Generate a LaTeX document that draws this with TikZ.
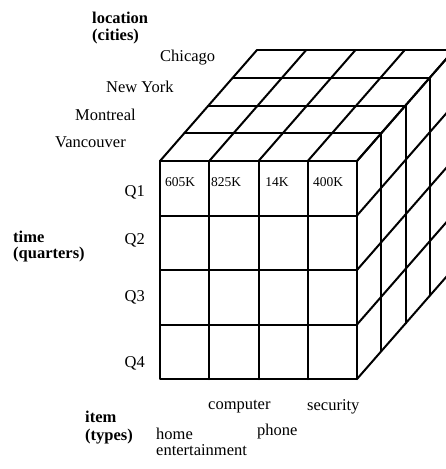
\documentclass[tikz,border=0pt]{standalone}
\usepackage{fontspec}
\setmainfont{Liberation Serif}
\begin{document}
\begin{tikzpicture}[x=1pt,y=-1pt,
  grid/.style={line width=2pt,line cap=round,line join=round},
  rim/.style={line width=2.8pt,line cap=round,line join=round},
  lbl/.style={inner sep=0pt,anchor=west,font=\fontsize{16.5}{18}\selectfont},
  axis/.style={lbl,font=\fontsize{16.5}{18}\selectfont\bfseries},
  qlbl/.style={inner sep=0pt,anchor=east,font=\fontsize{16.5}{18}\selectfont},
  cell/.style={inner sep=0pt,font=\fontsize{13.5}{15}\selectfont}]
\useasboundingbox (0,0) rectangle (446,469);
\clip (0,0) rectangle (446,469);
% cube geometry: front face origin, cell sizes and per-slice depth offset
\def\xo{160}\def\yo{161}\def\cw{49.25}\def\rh{54.5}\def\dx{24.25}\def\dy{27.75}
% top face
\foreach \k in {0,...,4}
  \draw[grid] ({\xo+\k*\dx},{\yo-\k*\dy}) -- ({\xo+4*\cw+\k*\dx},{\yo-\k*\dy});
\foreach \i in {0,...,4}
  \draw[grid] ({\xo+\i*\cw},\yo) -- ({\xo+\i*\cw+4*\dx},{\yo-4*\dy});
% right face
\foreach \k in {0,...,4}
  \draw[grid] ({\xo+4*\cw+\k*\dx},{\yo-\k*\dy}) -- ({\xo+4*\cw+\k*\dx},{\yo+4*\rh-\k*\dy});
\foreach \j in {0,...,4}
  \draw[grid] ({\xo+4*\cw},{\yo+\j*\rh}) -- ({\xo+4*\cw+4*\dx},{\yo+\j*\rh-4*\dy});
% front face
\foreach \i in {1,2,3}
  \draw[grid] ({\xo+\i*\cw},\yo) -- ({\xo+\i*\cw},{\yo+4*\rh});
\foreach \j in {1,2,3}
  \draw[grid] (\xo,{\yo+\j*\rh}) -- ({\xo+4*\cw},{\yo+\j*\rh});
\draw[rim] (\xo,\yo) rectangle ({\xo+4*\cw},{\yo+4*\rh});
% cell values
\node[cell] (v1) at (180,182) {605K};
\node[cell] (v2) at (226,182) {825K};
\node[cell] (v3) at (277,182) {14K};
\node[cell] (v4) at (328,182) {400K};
% location axis
\node[axis] (loc) at (92,18) {location};
\node[axis] (locu) at (92,37) {(cities)};
\node[lbl] (chi) at (160,58) {Chicago};
\node[lbl] (ny) at (106,87) {New York};
\node[lbl] (mon) at (75,115) {Montreal};
\node[lbl] (van) at (55,142) {Vancouver};
% time axis
\node[axis] (tim) at (13,237) {time};
\node[axis] (timu) at (13,255) {(quarters)};
\node[qlbl] (q1) at (145,192) {Q1};
\node[qlbl] (q2) at (145,240) {Q2};
\node[qlbl] (q3) at (145,297) {Q3};
\node[qlbl] (q4) at (145,363) {Q4};
% item axis
\node[axis] (itm) at (85,417) {item};
\node[axis] (itmu) at (85,437) {(types)};
\node[lbl] (comp) at (208,407) {computer};
\node[lbl] (sec) at (307,407) {security};
\node[lbl] (home) at (156,434) {home};
\node[lbl] (phone) at (257,432) {phone};
\node[lbl] (ent) at (156,450) {entertainment};
\end{tikzpicture}
\end{document}
